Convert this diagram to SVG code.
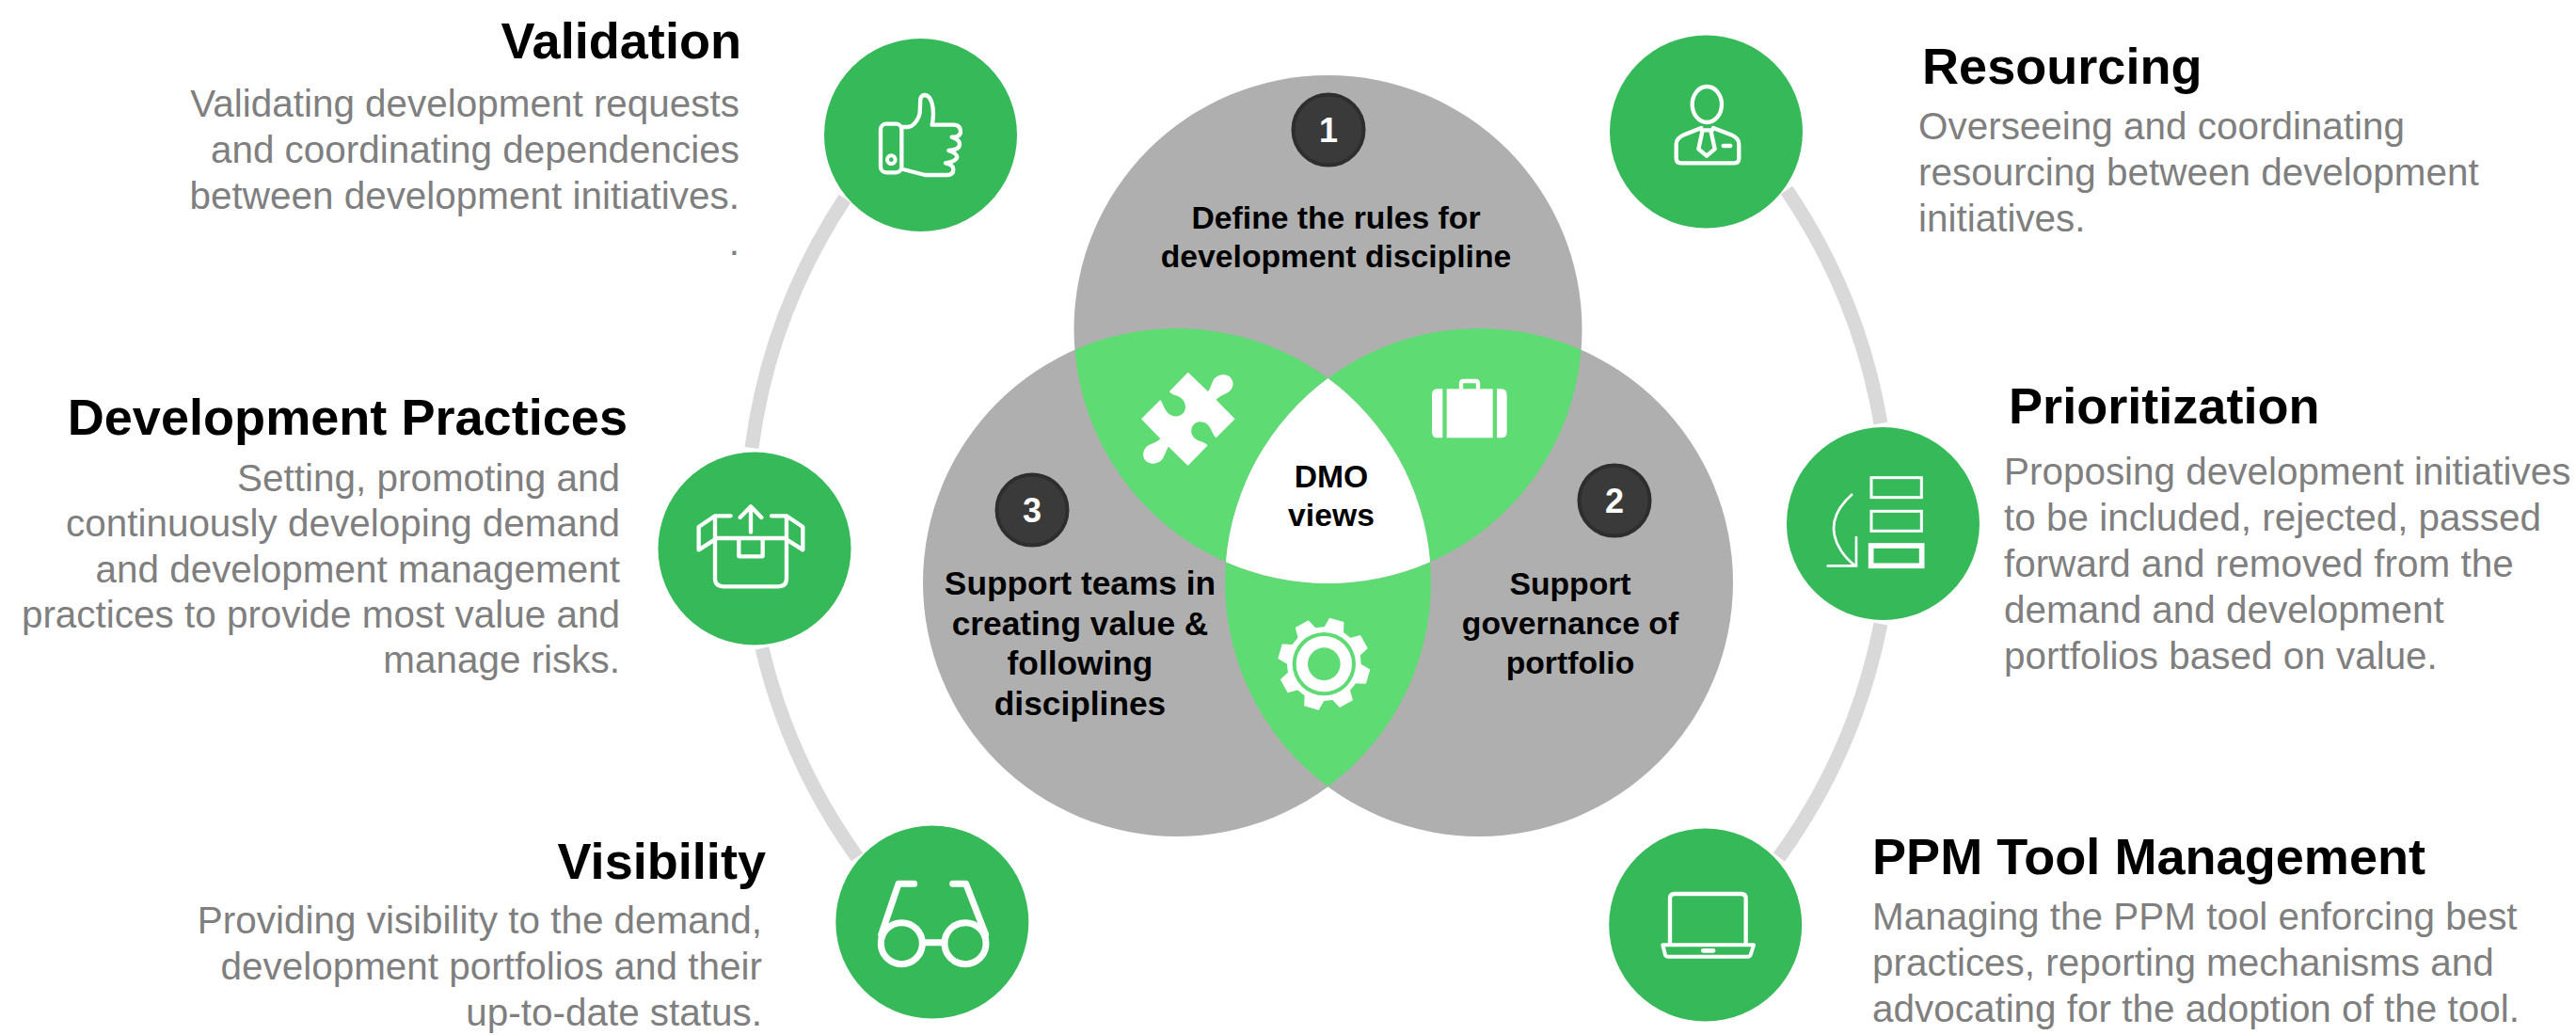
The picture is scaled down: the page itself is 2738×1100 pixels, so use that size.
<svg xmlns="http://www.w3.org/2000/svg" width="2738" height="1100" viewBox="0 0 2738 1100">
<style>
text{font-family:"Liberation Sans",Arial,sans-serif}
.t{font-size:54.1px;font-weight:700;fill:#000}
.b{font-size:40.45px;fill:#7f7f7f}
.c{font-size:33.7px;font-weight:700;fill:#000;text-anchor:middle}
.c2{font-size:35.3px}
.n{font-size:36px;font-weight:700;fill:#fff;text-anchor:middle}
.r{text-anchor:end}
.dot{fill:#36b958}
.ic{fill:none;stroke:#fff;stroke-linecap:round;stroke-linejoin:round;stroke-width:13}
.gray{fill:#afafaf}
.lg{fill:#5edb72}
.badge{fill:#3a3a3a;stroke:#2e2e2e;stroke-width:4}
.ring{fill:none;stroke:#d9d9d9;stroke-width:15}
</style>
<defs>
<path id="tooth" d="M-33,-110 L-24,-146 L24,-146 L33,-110 Z" fill="#fff"/>
</defs>
<g id="connectors">
<path class="ring" d="M1899,202 A630,630 0 0 1 1999,450"/>
<path class="ring" d="M1999,663 A630,630 0 0 1 1891,911"/>
<path class="ring" d="M898,211 A630,630 0 0 0 799,476"/>
<path class="ring" d="M810,689 A630,630 0 0 0 911,911"/>
</g>
<g id="venn">
<g id="venn-top"><circle class="gray" cx="1411.5" cy="350" r="270"/></g>
<g id="venn-left"><circle class="gray" cx="1251" cy="619" r="270"/></g>
<g id="venn-right"><circle class="gray" cx="1572" cy="619" r="270"/></g>
<path class="lg" d="M1142.4,371.8 A270,270 0 0 1 1411.5,402 A270,270 0 0 0 1302.9,597.2 A270,270 0 0 1 1142.4,371.8 Z"/>
<path class="lg" d="M1680.6,371.8 A270,270 0 0 0 1411.5,402 A270,270 0 0 1 1520.1,597.2 A270,270 0 0 0 1680.6,371.8 Z"/>
<path class="lg" d="M1302.9,597.2 A270,270 0 0 0 1520.1,597.2 A270,270 0 0 1 1411.5,836 A270,270 0 0 1 1302.9,597.2 Z"/>
<path fill="#fff" d="M1411.5,402 A270,270 0 0 1 1520.1,597.2 A270,270 0 0 1 1302.9,597.2 A270,270 0 0 1 1411.5,402 Z"/>
<g id="icon-puzzle" transform="translate(1190,370) scale(.3333)"><path fill="#fff" d="M218,77 L282,138 C290,130 292,115 300,100 C310,85 335,80 350,90 C365,102 366,125 350,138 C340,147 320,150 308,165 L368,226 L308,286 C298,280 293,255 280,243 C265,230 240,232 232,250 C222,270 235,290 255,296 C265,299 275,303 281,310 L218,375 L156,314 C148,325 145,345 133,358 C118,372 95,372 82,358 C70,343 75,320 92,310 C105,303 120,300 130,289 L69,226 L130,165 C138,175 142,195 155,208 C170,222 195,220 206,203 C215,185 208,165 190,155 C178,150 165,148 159,138 Z"/></g>
<g id="icon-briefcase" transform="translate(1500,370) scale(.3333)">
<path fill="#fff" d="M100,130 H84 Q66,130 66,150 V266 Q66,286 84,286 H100 Z"/>
<rect x="113" y="130" width="147" height="156" fill="#fff"/>
<path fill="#fff" d="M273,130 H287 Q305,130 305,150 V266 Q305,286 287,286 H273 Z"/>
<path fill="none" stroke="#fff" stroke-width="13" d="M159,130 V113 Q159,105 167,105 H205 Q213,105 213,113 V130"/>
</g>
<g id="icon-gear" transform="translate(1340,640) scale(.3333)">
<g transform="translate(202,197)">
<circle r="118" fill="#fff"/>
<use href="#tooth" transform="rotate(16)"/><use href="#tooth" transform="rotate(61)"/><use href="#tooth" transform="rotate(106)"/><use href="#tooth" transform="rotate(151)"/><use href="#tooth" transform="rotate(196)"/><use href="#tooth" transform="rotate(241)"/><use href="#tooth" transform="rotate(286)"/><use href="#tooth" transform="rotate(331)"/>
<circle r="101" class="lg"/><circle r="89" fill="#fff"/><circle r="52" class="lg"/>
</g></g>
</g>
<g id="badge-1"><circle class="badge" cx="1412" cy="138" r="37.5"/><text class="n" x="1412" y="151">1</text></g>
<g id="badge-2"><circle class="badge" cx="1716" cy="532" r="37.5"/><text class="n" x="1716" y="545">2</text></g>
<g id="badge-3"><circle class="badge" cx="1097" cy="542" r="37.5"/><text class="n" x="1097" y="555">3</text></g>
<g id="label-1"><text class="c" x="1420" y="243">Define the rules for</text><text class="c" x="1420" y="284">development discipline</text></g>
<g id="label-center"><text class="c" x="1415" y="518">DMO</text><text class="c" x="1415" y="559">views</text></g>
<g id="label-3"><text class="c c2" x="1148" y="632">Support teams in</text><text class="c c2" x="1148" y="675">creating value &amp;</text><text class="c c2" x="1148" y="717">following</text><text class="c c2" x="1148" y="760">disciplines</text></g>
<g id="label-2"><text class="c" x="1669" y="632">Support</text><text class="c" x="1669" y="674">governance of</text><text class="c" x="1669" y="716">portfolio</text></g>

<g id="validation">
<circle class="dot" cx="978.5" cy="143.5" r="102.5"/>
<g class="ic" transform="translate(840,0) scale(.3333)"><rect x="288" y="395" width="67" height="155" rx="18"/><circle cx="322" cy="509" r="13" stroke-width="12"/><path d="M355,405 L375,405 Q388,403 395,395 Q410,378 413,360 L415,315 Q418,303 430,303 Q445,305 452,330 Q460,360 452,398 L520,398 Q543,398 543,420 Q543,437 515,437 Q540,445 540,460 Q540,478 505,480 Q532,490 532,500 Q530,515 495,520 Q520,525 520,540 Q520,558 500,558 L430,558 L360,540"/></g>
<text class="t r" x="788" y="62">Validation</text>
<text class="b r" x="786" y="124">Validating development requests</text>
<text class="b r" x="786" y="173">and coordinating dependencies</text>
<text class="b r" x="786" y="222">between development initiatives.</text>
<text class="b r" x="786" y="271">.</text>
</g>
<g id="resourcing">
<circle class="dot" cx="1813.5" cy="140" r="102.5"/>
<g class="ic" transform="translate(1680,10) scale(.3333)"><ellipse cx="403" cy="303" rx="47" ry="57"/><path d="M385,378 L330,400 Q305,410 305,430 V475 Q305,490 320,490 H490 Q505,490 505,475 V430 Q505,410 480,400 L423,378 M385,385 H420 M388,390 L376,445 L402,467 L428,445 L416,390 M455,435 H478"/></g>
<text class="t" x="2043" y="89">Resourcing</text>
<text class="b" x="2039" y="148">Overseeing and coordinating</text>
<text class="b" x="2039" y="197">resourcing between development</text>
<text class="b" x="2039" y="246">initiatives.</text>
</g>
<g id="prioritization">
<circle class="dot" cx="2001.5" cy="556.5" r="102.5"/>
<g class="ic" transform="translate(1880,440) scale(.3333)" style="stroke-linecap:butt;stroke-linejoin:miter"><rect x="327" y="203" width="160" height="63" stroke-width="9"/><rect x="327" y="310" width="160" height="63" stroke-width="9"/><rect x="326" y="420" width="162" height="64" stroke-width="17"/><path d="M267,255 Q170,340 230,435 Q250,465 275,483" stroke-width="8"/><path d="M185,484 H279 V390" stroke-width="8"/></g>
<text class="t" x="2135" y="450">Prioritization</text>
<text class="b" x="2130" y="515">Proposing development initiatives</text>
<text class="b" x="2130" y="564">to be included, rejected, passed</text>
<text class="b" x="2130" y="613">forward and removed from the</text>
<text class="b" x="2130" y="662">demand and development</text>
<text class="b" x="2130" y="711">portfolios based on value.</text>
</g>
<g id="ppm-tool-management">
<circle class="dot" cx="1812.7" cy="983" r="102.5"/>
<g class="ic" transform="translate(1690,870) scale(.3333)"><path d="M255,395 V255 Q255,240 270,240 H482 Q497,240 497,255 V395"/><path stroke-width="12" d="M232,403 H522 L512,435 Q510,440 505,440 H248 Q242,440 240,435 Z"/><rect x="354" y="414" width="46" height="14" rx="7" fill="#fff" stroke="none"/></g>
<text class="t" x="1990" y="929">PPM Tool Management</text>
<text class="b" x="1990" y="988">Managing the PPM tool enforcing best</text>
<text class="b" x="1990" y="1037">practices, reporting mechanisms and</text>
<text class="b" x="1990" y="1086">advocating for the adoption of the tool.</text>
</g>
<g id="development-practices">
<circle class="dot" cx="802" cy="583" r="102.5"/>
<g class="ic" transform="translate(680,470) scale(.3333)"><path d="M240,240 V435 Q240,460 268,460 H440 Q468,460 468,435 V240 M240,306 H468 M316,306 V364 H392 V306 M290,235 H240 L188,270 V343 L240,310 M420,235 H468 L520,270 V343 L468,310 M354,287 V205 M320,240 L354,205 L388,240"/></g>
<text class="t r" x="667" y="462">Development Practices</text>
<text class="b r" x="659" y="522">Setting, promoting and</text>
<text class="b r" x="659" y="570">continuously developing demand</text>
<text class="b r" x="659" y="619">and development management</text>
<text class="b r" x="659" y="667">practices to provide most value and</text>
<text class="b r" x="659" y="715">manage risks.</text>
</g>
<g id="visibility">
<circle class="dot" cx="990.8" cy="980" r="102.5"/>
<g class="ic" transform="translate(870,870) scale(.3333)" style="stroke-width:21"><circle cx="265" cy="398" r="66"/><circle cx="468" cy="398" r="66"/><path d="M335,395 H400 M200,370 L255,208 H305 M533,370 L470,208 H428"/></g>
<text class="t r" x="814" y="934">Visibility</text>
<text class="b r" x="810" y="992">Providing visibility to the demand,</text>
<text class="b r" x="810" y="1041">development portfolios and their</text>
<text class="b r" x="810" y="1090">up-to-date status.</text>
</g>
</svg>
